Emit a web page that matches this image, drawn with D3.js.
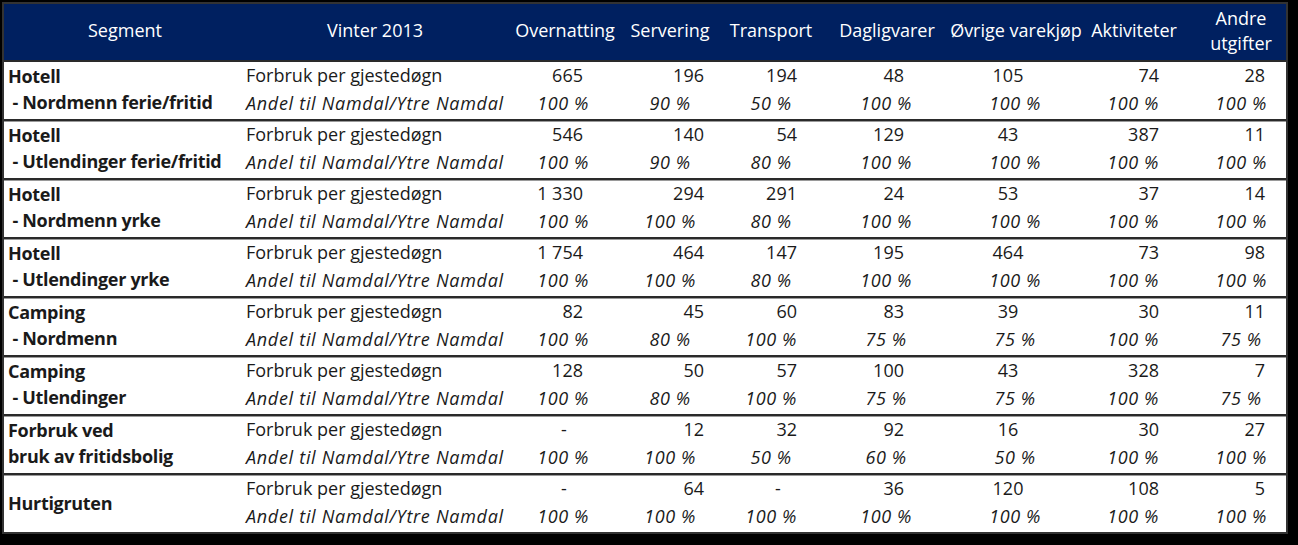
<!DOCTYPE html>
<html><head><meta charset="utf-8">
<script src="https://cdn.jsdelivr.net/npm/d3@7"></script>
<style>
html,body{margin:0;padding:0;background:#000;}
svg{display:block;font-family:"Open Sans",Lato,sans-serif;}
</style></head>
<body><svg id="c" width="1298" height="545"></svg>
<script>
// ---- data ----
const headerLeft = ["Segment", "Vinter 2013"];
const categories = ["Overnatting", "Servering", "Transport", "Dagligvarer", "Øvrige varekjøp", "Aktiviteter", "Andre utgifter"];
const rowLabels = ["Forbruk per gjestedøgn", "Andel til Namdal/Ytre Namdal"];
const segments = [
  ["Hotell", " - Nordmenn ferie/fritid"],
  ["Hotell", " - Utlendinger ferie/fritid"],
  ["Hotell", " - Nordmenn yrke"],
  ["Hotell", " - Utlendinger yrke"],
  ["Camping", " - Nordmenn"],
  ["Camping", " - Utlendinger"],
  ["Forbruk ved", "bruk av fritidsbolig"],
  ["Hurtigruten"]
];
const forbruk = [
  [665, 196, 194, 48, 105, 74, 28],
  [546, 140, 54, 129, 43, 387, 11],
  [1330, 294, 291, 24, 53, 37, 14],
  [1754, 464, 147, 195, 464, 73, 98],
  [82, 45, 60, 83, 39, 30, 11],
  [128, 50, 57, 100, 43, 328, 7],
  [null, 12, 32, 92, 16, 30, 27],
  [null, 64, null, 36, 120, 108, 5]
];
const andel = [
  [100, 90, 50, 100, 100, 100, 100],
  [100, 90, 80, 100, 100, 100, 100],
  [100, 100, 80, 100, 100, 100, 100],
  [100, 100, 80, 100, 100, 100, 100],
  [100, 80, 100, 75, 75, 100, 75],
  [100, 80, 100, 75, 75, 100, 75],
  [100, 100, 50, 60, 50, 100, 100],
  [100, 100, 100, 100, 100, 100, 100]
];

// ---- layout ----
const W = 1298, H = 545;
const L = 3, R = 1287, T = 3, HB = 61, B = 533;
const headerX = [565, 670, 771, 887, 1016, 1134, 1241];
const numX = [583, 704, 797, 904, 1008, 1159, 1265];
const numAnchor = ["end", "end", "end", "end", "middle", "end", "end"];
const pctX = [563, 670, 771, 886, 1015, 1133, 1241];
const FS = 18;

const svg = d3.select("#c");
const nf = d3.formatLocale({decimal: ",", thousands: " ", grouping: [3], currency: ["", ""]}).format(",d");

const y = d3.scaleBand().domain(d3.range(segments.length)).range([HB, B]).paddingInner(0).paddingOuter(0);

// background
svg.append("rect").attr("x", 0).attr("y", 0).attr("width", W).attr("height", H).attr("fill", "#000");
svg.append("rect").attr("x", L).attr("y", T).attr("width", R - L).attr("height", B - T).attr("fill", "#fff");
svg.append("rect").attr("x", L).attr("y", T).attr("width", R - L).attr("height", HB - T).attr("fill", "#002060");

// header text
const hdr = svg.append("g").attr("fill", "#fff").attr("font-size", FS);
hdr.append("text").attr("x", 125).attr("y", 31).attr("dy", "0.35em").attr("text-anchor", "middle").text(headerLeft[0]);
hdr.append("text").attr("x", 375).attr("y", 31).attr("dy", "0.35em").attr("text-anchor", "middle").text(headerLeft[1]);
categories.forEach((c, i) => {
  const t = hdr.append("text").attr("x", headerX[i]).attr("text-anchor", "middle");
  if (c === "Andre utgifter") {
    t.append("tspan").attr("x", headerX[i]).attr("y", 19).attr("dy", "0.35em").text("Andre");
    t.append("tspan").attr("x", headerX[i]).attr("y", 44).attr("dy", "0.35em").text("utgifter");
  } else {
    t.attr("y", 31).attr("dy", "0.35em").text(c);
  }
});

// rows
const groups = svg.append("g").selectAll("g").data(segments).join("g")
  .attr("transform", (d, i) => `translate(0,${y(i)})`)
  .attr("font-size", FS).attr("fill", "#1a1a1a");

groups.each(function(seg, gi) {
  const g = d3.select(this);
  const bh = y.bandwidth();
  if (seg.length === 1) {
    g.append("text").attr("x", 8).attr("y", bh / 2).attr("dy", "0.35em")
      .attr("font-weight", "bold").attr("letter-spacing", -0.3).text(seg[0]);
  } else {
    g.append("text").attr("x", 8).attr("y", 16).attr("dy", "0.35em").attr("font-weight", "bold")
      .attr("letter-spacing", -0.3).text(seg[0]);
    g.append("text").attr("x", 8).attr("y", 42).attr("dy", "0.35em").attr("font-weight", "bold")
      .attr("letter-spacing", -0.3).style("white-space", "pre").text(seg[1]);
  }
  g.append("text").attr("x", 246).attr("y", 15).attr("dy", "0.35em").text(rowLabels[0]);
  g.append("text").attr("x", 246).attr("y", 43).attr("dy", "0.35em").attr("font-style", "italic")
    .attr("letter-spacing", 0.7).text(rowLabels[1]);

  g.selectAll("text.num").data(forbruk[gi]).join("text").attr("class", "num")
    .attr("x", (d, i) => d == null ? numX[i] - 19 : numX[i])
    .attr("text-anchor", (d, i) => d == null ? "middle" : numAnchor[i])
    .attr("y", 15).attr("dy", "0.35em")
    .text(d => d == null ? "-" : nf(d));

  g.selectAll("text.pct").data(andel[gi]).join("text").attr("class", "pct")
    .attr("x", (d, i) => pctX[i]).attr("text-anchor", "middle")
    .attr("y", 43).attr("dy", "0.35em").attr("font-style", "italic").attr("letter-spacing", 0.6)
    .text(d => d + " %");
});

// separators
const seps = d3.range(segments.length + 1).map(i => i === segments.length ? B : y(i));
svg.append("g").selectAll("line").data(seps).join("line")
  .attr("x1", L).attr("x2", R).attr("y1", d => d).attr("y2", d => d)
  .attr("stroke", "#2a2a2a").attr("stroke-width", 2);
svg.append("g").selectAll("line").data(seps.slice(1, -1)).join("line")
  .attr("x1", L).attr("x2", R).attr("y1", d => d + 1.5).attr("y2", d => d + 1.5)
  .attr("stroke", "#9a9a9a").attr("stroke-width", 1);
svg.append("rect").attr("x", L).attr("y", T).attr("width", R - L).attr("height", B - T)
  .attr("fill", "none").attr("stroke", "#333").attr("stroke-width", 2);
</script></body></html>
